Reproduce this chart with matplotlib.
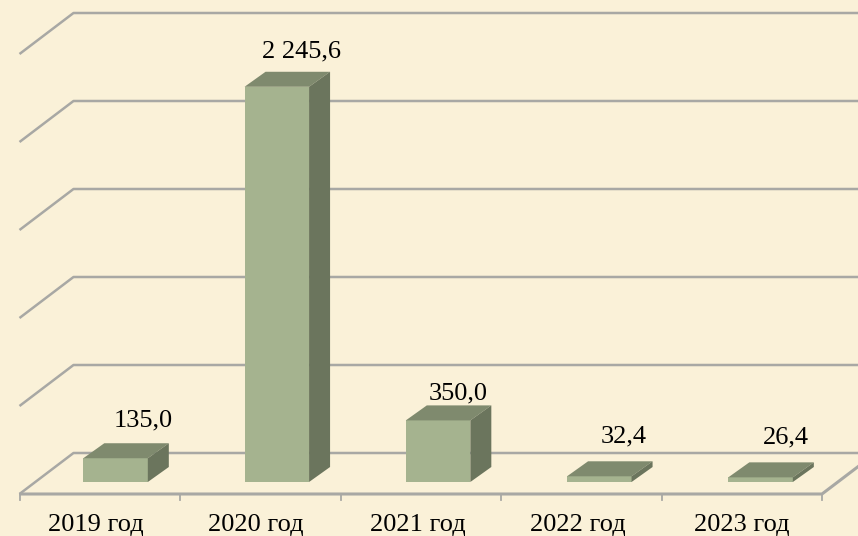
import matplotlib
matplotlib.use('Agg')
import matplotlib.pyplot as plt
from matplotlib.patches import Polygon

categories = ['2019 год', '2020 год', '2021 год', '2022 год', '2023 год']
values = [135.0, 2245.6, 350.0, 32.4, 26.4]
value_labels = ['135,0', '2 245,6', '350,0', '32,4', '26,4']
axis_ticks = [0, 500, 1000, 1500, 2000, 2500]

# label offsets from the top of the front face (px)
label_dx = [27.5, 25, 20, 24, 25]
label_dy = [-38, -35, -27, -40, -40]
xlabel_dx = [-4, -4, -3, -3, 0]

BG = '#faf1d8'
GRID = '#a8a8a4'
FRONT = '#a5b38f'
TOP = '#7f8a6e'
SIDE = '#6b755d'

# oblique projection, everything ends up in pixels
X0, Y0 = 19.5, 494
CAT_W = 160.5
BAR_STEP = 1.0047  # bars sit a touch wider apart than the ticks
PX_PER_UNIT = 0.176
FLOOR_DX, FLOOR_DY = 54, 41
BAR_W = 0.402
BAR_DEPTH = 12 / 41
SIDE_DX, SIDE_DY = 21, 15
FONT = 'Liberation Serif'
FONT_SIZE = 19


def project(x, v, d=0.0):
    return (X0 + x * CAT_W + d * FLOOR_DX,
            Y0 - v * PX_PER_UNIT - d * FLOOR_DY)


fig = plt.figure(figsize=(8.58, 5.36), dpi=100, facecolor=BG)
ax = fig.add_axes([0, 0, 1, 1])
ax.set_xlim(0, 858)
ax.set_ylim(536, 0)
ax.axis('off')

n = len(categories)

# wall lines and back grid lines
for t in axis_ticks:
    ax.plot(*zip(project(0, t), project(0, t, 1), project(n + 1, t, 1)),
            color=GRID, lw=1.8, solid_capstyle='butt', zorder=1)

# floor front edge, right wall edge and tick marks
ax.plot(*zip(project(0, 0), project(n, 0), project(n, 0, 1)),
        color=GRID, lw=2.2, solid_capstyle='butt', zorder=1)
for i in range(n + 1):
    x, y = project(i, 0)
    ax.plot([x, x], [y, y + 6], color=GRID, lw=1.3, zorder=1)

# bars
for i, v in enumerate(values):
    c = i * BAR_STEP + 0.5
    left, bottom = project(c - BAR_W / 2, 0, BAR_DEPTH)
    right, top = project(c + BAR_W / 2, v, BAR_DEPTH)
    ax.add_patch(Polygon([(left, bottom), (right, bottom), (right, top), (left, top)],
                         fc=FRONT, ec='none', zorder=2))
    ax.add_patch(Polygon([(left, top), (right, top),
                          (right + SIDE_DX, top - SIDE_DY), (left + SIDE_DX, top - SIDE_DY)],
                         fc=TOP, ec='none', zorder=2))
    ax.add_patch(Polygon([(right, bottom), (right + SIDE_DX, bottom - SIDE_DY),
                          (right + SIDE_DX, top - SIDE_DY), (right, top)],
                         fc=SIDE, ec='none', zorder=2))
    ax.text((left + right) / 2 + label_dx[i], top + label_dy[i], value_labels[i],
            ha='center', va='center', fontsize=FONT_SIZE, family=FONT, color='black', zorder=3)
    ax.text(project(i + 0.5, 0)[0] + xlabel_dx[i], 525, categories[i],
            ha='center', va='center', fontsize=FONT_SIZE, family=FONT, color='black', zorder=3)

fig.savefig('out.png', dpi=100, facecolor=BG)
